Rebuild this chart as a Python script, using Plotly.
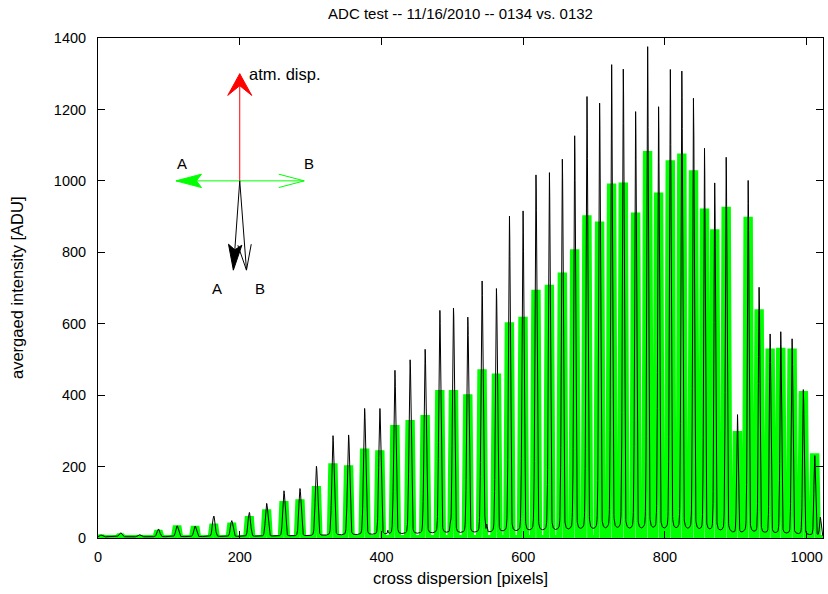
import numpy as np
import plotly.graph_objects as go

# ---------------------------------------------------------------------------
# Order peaks across the cross-dispersion direction
# ---------------------------------------------------------------------------
peak_x = [4.5, 31.7, 58.5, 85.3, 111.6, 137.0, 163.4, 188.7, 213.5, 238.0,
          262.4, 285.0, 308.2, 331.5, 353.6, 376.2, 397.7, 418.9, 440.4, 461.6,
          482.3, 501.6, 521.8, 541.9, 562.2, 580.5, 599.7, 618.0, 636.9, 655.2,
          672.6, 689.9, 707.8, 724.7, 741.2, 758.6, 775.5, 791.0, 807.5, 823.8,
          840.3, 855.8, 870.3, 886.4, 902.3, 917.4, 932.9, 948.4, 963.4, 979.4,
          995.3, 1011.3, 1019.3]

# frame 0132: plateau level of each order [ADU] (drawn as thick green line)
level_0132 = [2, 5, 1, 15, 27, 26, 32, 35, 53, 72,
              95, 100, 137, 201, 195, 242, 237, 308, 322, 336,
              406, 406, 394, 464, 452, 596, 611, 687, 701, 735,
              800, 895, 878, 984, 987, 903, 1075, 959, 1049, 1068,
              1021, 914, 856, 919, 291, 891, 632, 522, 524, 522,
              403, 229, 0]

# frame 0134: peak intensity of each order [ADU] (thin black line)
peak_0134 = [5, 12, 6, 22, 31, 30, 58, 45, 68, 93,
             128, 134, 196, 282, 283, 357, 357, 464, 492, 521,
             631, 626, 610, 713, 689, 894, 908, 1006, 1015, 1049,
             1114, 1228, 1205, 1317, 1300, 1181, 1368, 1194, 1304, 1295,
             1224, 1079, 987, 1057, 336, 993, 696, 563, 570, 551,
             411, 226, 52]

# small hits in frame 0134 between orders
hit_x = [409.0, 497.0, 499.5, 502.0, 546.0, 548.5]
hit_y = [10, 18, 22, 12, 24, 20]

x_ticks = [0, 200, 400, 600, 800, 1000]
y_ticks = [0, 200, 400, 600, 800, 1000, 1200, 1400]
x_range = [0, 1023]
y_range = [0, 1400]

GREEN = "#00ff00"
FONT = "Liberation Sans, Arial, Helvetica, sans-serif"

px_ = np.asarray(peak_x, float)
g_lvl = np.asarray(level_0132, float)
b_pk = np.asarray(peak_0134, float)

# local order spacing, used to scale the line profiles
centres = px_[:-1]
mids = 0.5 * (centres[1:] + centres[:-1])
gaps = np.diff(centres)
spacing = np.interp(px_, mids, gaps)

# ---------------------------------------------------------------------------
# frame 0134 trace: narrow cores with weak wings on a small offset
# ---------------------------------------------------------------------------
xs = np.arange(0.0, 1023.01, 0.2)
ys = np.full_like(xs, 3.0)
for c, h, s in zip(px_, b_pk, spacing):
    sig = 0.07 * s
    wing = 0.3 * s
    dx = xs - c
    ys += h * (0.97 * np.exp(-0.5 * (dx / sig) ** 2) + 0.03 / (1.0 + (dx / wing) ** 2))
for c, h in zip(hit_x, hit_y):
    ys += h * np.exp(-0.5 * ((xs - c) / 0.6) ** 2)

# ---------------------------------------------------------------------------
# frame 0132 trace: flat-topped plateaus joined along the floor
# ---------------------------------------------------------------------------
gx, gy = [0.0], [0.0]
for c, h in zip(px_, g_lvl):
    if h <= 0:
        continue
    gx += [c - 4.5, c - 2.4, c + 2.4, c + 4.5]
    gy += [0.0, h, h, 0.0]
gx.append(1030.0)
gy.append(0.0)

fig = go.Figure()
fig.add_trace(go.Scatter(x=gx, y=gy, mode="lines",
                         line=dict(color=GREEN, width=6, simplify=False),
                         hoverinfo="skip"))
fig.add_trace(go.Scatter(x=xs, y=ys, mode="lines",
                         line=dict(color="black", width=1), hoverinfo="skip"))

# ---------------------------------------------------------------------------
# direction diagram (arrows drawn in pixel space, converted to data units)
# ---------------------------------------------------------------------------
W, H = 828, 594
ML, MR, MT, MB = 98, 5, 38, 56
kx = (W - ML - MR) / (x_range[1] - x_range[0])
ky = (H - MT - MB) / (y_range[1] - y_range[0])

origin = (200.0, 1000.0)
arrows = [
    # tip, colour, head length px, half width px, notch fraction, filled
    ((200.0, 1300.0), "#ff0000", 21.7, 12.0, 0.55, True),
    ((110.0, 1000.0), GREEN, 25.5, 6.7, 0.8, True),
    ((291.0, 1000.0), GREEN, 25.5, 6.7, 1.0, False),
    ((191.0, 750.0), "black", 25.5, 6.7, 0.8, True),
    ((209.5, 750.0), "black", 25.5, 6.7, 1.0, False),
]

shapes = []
for tip, col, hl, hw, notch, filled in arrows:
    shapes.append(dict(type="line", xref="x", yref="y",
                       x0=origin[0], y0=origin[1], x1=tip[0], y1=tip[1],
                       line=dict(color=col, width=1)))
    tx, ty = tip[0] * kx, tip[1] * ky
    ox, oy = origin[0] * kx, origin[1] * ky
    d = np.hypot(tx - ox, ty - oy)
    ux, uy = (tx - ox) / d, (ty - oy) / d
    nx, ny = -uy, ux
    b1 = (tx - ux * hl + nx * hw, ty - uy * hl + ny * hw)
    b2 = (tx - ux * hl - nx * hw, ty - uy * hl - ny * hw)
    nb = (tx - ux * hl * notch, ty - uy * hl * notch)

    def to_data(p):
        return f"{p[0] / kx:.3f},{p[1] / ky:.3f}"

    if filled:
        path = (f"M{to_data(b1)} L{to_data((tx, ty))} L{to_data(b2)} "
                f"L{to_data(nb)} Z")
        shapes.append(dict(type="path", xref="x", yref="y", path=path,
                           fillcolor=col, line=dict(color=col, width=1)))
    else:
        path = f"M{to_data(b1)} L{to_data((tx, ty))} L{to_data(b2)}"
        shapes.append(dict(type="path", xref="x", yref="y", path=path,
                           line=dict(color=col, width=1)))

labels = [
    ("atm. disp.", 210.0, 1300.0, "left", 16.5),
    ("A", 118.0, 1048.0, "center", 15),
    ("B", 297.5, 1048.0, "center", 15),
    ("A", 167.5, 700.0, "center", 15),
    ("B", 228.5, 700.0, "center", 15),
]
annotations = [dict(text=t, x=x, y=y, xref="x", yref="y", showarrow=False,
                    xanchor=a, yanchor="middle",
                    font=dict(family=FONT, size=fs, color="black"))
               for t, x, y, a, fs in labels]

annotations += [
    dict(text="cross dispersion [pixels]", xref="paper", yref="paper",
         x=0.5, y=-(578.0 - (H - MB)) / (H - MT - MB), showarrow=False,
         xanchor="center", yanchor="middle",
         font=dict(family=FONT, size=16.5, color="black")),
    dict(text="avergaed intensity [ADU]", xref="paper", yref="paper",
         x=(17.0 - ML) / (W - ML - MR), y=0.5, showarrow=False, textangle=-90,
         xanchor="center", yanchor="middle",
         font=dict(family=FONT, size=16.5, color="black")),
]

axis_common = dict(showline=True, linecolor="black", linewidth=1, mirror="ticks",
                   ticks="inside", ticklen=7, tickcolor="black", tickwidth=1,
                   showgrid=False, zeroline=False,
                   tickfont=dict(family=FONT, size=14.5, color="black"))

fig.update_layout(
    width=W, height=H,
    margin=dict(l=ML, r=MR, t=MT, b=MB),
    paper_bgcolor="white", plot_bgcolor="white",
    showlegend=False,
    font=dict(family=FONT, size=14, color="black"),
    title=dict(text="ADC test -- 11/16/2010 -- 0134 vs. 0132",
               x=0.5, xref="paper", xanchor="center",
               y=1 - 14.0 / H, yref="container", yanchor="middle",
               font=dict(family=FONT, size=15, color="black")),
    xaxis=dict(range=x_range, tickvals=x_ticks, ticklabelstandoff=6, **axis_common),
    yaxis=dict(range=y_range, tickvals=y_ticks, ticklabelstandoff=8, **axis_common),
    shapes=shapes,
    annotations=annotations,
)

fig.write_html("out.html")
